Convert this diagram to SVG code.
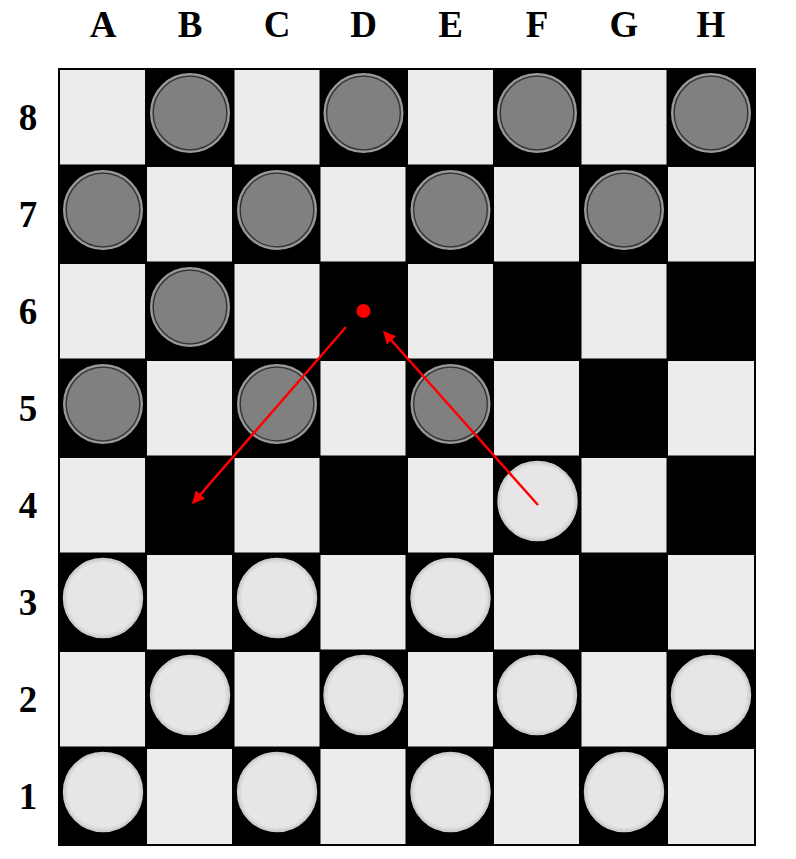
<svg xmlns="http://www.w3.org/2000/svg" xmlns:xlink="http://www.w3.org/1999/xlink" width="796" height="859" viewBox="0 0 796 859">
<style>
.lbl{font-family:"Liberation Serif","Times New Roman",serif;font-weight:bold;font-size:37px;fill:#000;text-anchor:middle}
.sq{fill:#ececec}
.arrow{stroke:#ff0000;stroke-width:2.5;fill:none;marker-end:url(#ah)}
</style>
<defs>
<marker id="ah" viewBox="0 0 10 10" refX="9" refY="5" markerWidth="6" markerHeight="5" markerUnits="strokeWidth" orient="auto">
<path d="M0,0 L10,5 L0,10 z" fill="#ff0000"/>
</marker>
<g id="dk">
<circle r="39" fill="#808080" stroke="#9a9a9a" stroke-width="2"/>
<circle r="36.8" fill="none" stroke="#333" stroke-width="1.3"/>
</g>
<g id="lt">
<circle r="39" fill="#e7e5e7" stroke="#cdcdcd" stroke-width="2.4"/>
<circle r="36.6" fill="none" stroke="#d8d8d8" stroke-width="1"/>
</g>
</defs>
<rect width="796" height="859" fill="#fff"/>
<g id="board">
<rect x="58" y="68" width="698" height="778" fill="#000"/>
<rect class="sq" x="60" y="70" width="85" height="94.5"/>
<rect class="sq" x="234.5" y="70" width="85" height="94.5"/>
<rect class="sq" x="408" y="70" width="85" height="94.5"/>
<rect class="sq" x="581.5" y="70" width="85" height="94.5"/>
<rect class="sq" x="147" y="167" width="85" height="94.5"/>
<rect class="sq" x="320.5" y="167" width="85" height="94.5"/>
<rect class="sq" x="494" y="167" width="85" height="94.5"/>
<rect class="sq" x="668" y="167" width="86" height="94.5"/>
<rect class="sq" x="60" y="264" width="85" height="94.5"/>
<rect class="sq" x="234.5" y="264" width="85" height="94.5"/>
<rect class="sq" x="408" y="264" width="85" height="94.5"/>
<rect class="sq" x="581.5" y="264" width="85" height="94.5"/>
<rect class="sq" x="147" y="361" width="85" height="94.5"/>
<rect class="sq" x="320.5" y="361" width="85" height="94.5"/>
<rect class="sq" x="494" y="361" width="85" height="94.5"/>
<rect class="sq" x="668" y="361" width="86" height="94.5"/>
<rect class="sq" x="60" y="458" width="85" height="94.5"/>
<rect class="sq" x="234.5" y="458" width="85" height="94.5"/>
<rect class="sq" x="408" y="458" width="85" height="94.5"/>
<rect class="sq" x="581.5" y="458" width="85" height="94.5"/>
<rect class="sq" x="147" y="555" width="85" height="94.5"/>
<rect class="sq" x="320.5" y="555" width="85" height="94.5"/>
<rect class="sq" x="494" y="555" width="85" height="94.5"/>
<rect class="sq" x="668" y="555" width="86" height="94.5"/>
<rect class="sq" x="60" y="652" width="85" height="94.5"/>
<rect class="sq" x="234.5" y="652" width="85" height="94.5"/>
<rect class="sq" x="408" y="652" width="85" height="94.5"/>
<rect class="sq" x="581.5" y="652" width="85" height="94.5"/>
<rect class="sq" x="147" y="749" width="85" height="95"/>
<rect class="sq" x="320.5" y="749" width="85" height="95"/>
<rect class="sq" x="494" y="749" width="85" height="95"/>
<rect class="sq" x="668" y="749" width="86" height="95"/>
</g>
<g id="labels">
<text class="lbl" x="103" y="37">A</text>
<text class="lbl" x="190" y="37">B</text>
<text class="lbl" x="277" y="37">C</text>
<text class="lbl" x="363.5" y="37">D</text>
<text class="lbl" x="450.5" y="37">E</text>
<text class="lbl" x="537" y="37">F</text>
<text class="lbl" x="624" y="37">G</text>
<text class="lbl" x="711" y="37">H</text>
<text class="lbl" x="28" y="130">8</text>
<text class="lbl" x="28" y="227">7</text>
<text class="lbl" x="28" y="324">6</text>
<text class="lbl" x="28" y="421">5</text>
<text class="lbl" x="28" y="518">4</text>
<text class="lbl" x="28" y="615">3</text>
<text class="lbl" x="28" y="712">2</text>
<text class="lbl" x="28" y="809">1</text>
</g>
<g id="dark-pieces">
<g id="pB8"><use xlink:href="#dk" x="190" y="113"/></g>
<g id="pD8"><use xlink:href="#dk" x="363.5" y="113"/></g>
<g id="pF8"><use xlink:href="#dk" x="537" y="113"/></g>
<g id="pH8"><use xlink:href="#dk" x="711" y="113"/></g>
<g id="pA7"><use xlink:href="#dk" x="103" y="210"/></g>
<g id="pC7"><use xlink:href="#dk" x="277" y="210"/></g>
<g id="pE7"><use xlink:href="#dk" x="450.5" y="210"/></g>
<g id="pG7"><use xlink:href="#dk" x="624" y="210"/></g>
<g id="pB6"><use xlink:href="#dk" x="190" y="307"/></g>
<g id="pA5"><use xlink:href="#dk" x="103" y="404"/></g>
<g id="pC5"><use xlink:href="#dk" x="277" y="404"/></g>
<g id="pE5"><use xlink:href="#dk" x="450.5" y="404"/></g>
</g>
<g id="light-pieces">
<g id="pF4"><use xlink:href="#lt" x="537.5" y="501"/></g>
<g id="pA3"><use xlink:href="#lt" x="103" y="598"/></g>
<g id="pC3"><use xlink:href="#lt" x="277" y="598"/></g>
<g id="pE3"><use xlink:href="#lt" x="450.5" y="598"/></g>
<g id="pB2"><use xlink:href="#lt" x="190" y="695"/></g>
<g id="pD2"><use xlink:href="#lt" x="363.5" y="695"/></g>
<g id="pF2"><use xlink:href="#lt" x="537" y="695"/></g>
<g id="pH2"><use xlink:href="#lt" x="711" y="695"/></g>
<g id="pA1"><use xlink:href="#lt" x="103" y="792"/></g>
<g id="pC1"><use xlink:href="#lt" x="277" y="792"/></g>
<g id="pE1"><use xlink:href="#lt" x="450.5" y="792"/></g>
<g id="pG1"><use xlink:href="#lt" x="624" y="792"/></g>
</g>
<g id="target"><circle cx="363.5" cy="311" r="7" fill="#ff0000"/></g>
<g id="connectors">
<line class="arrow" x1="538" y1="505" x2="384" y2="332"/>
<line class="arrow" x1="346" y1="327" x2="193" y2="503"/>
</g>
</svg>
